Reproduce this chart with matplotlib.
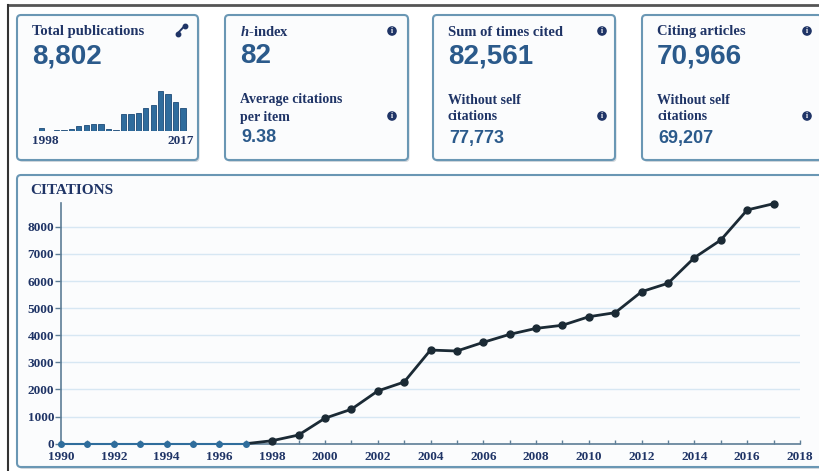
import matplotlib
matplotlib.use("Agg")
import matplotlib.pyplot as plt
from matplotlib.patches import FancyBboxPatch, Circle

plt.rcParams['mathtext.fontset'] = 'custom'
plt.rcParams['mathtext.it'] = 'Liberation Serif:italic:bold'
plt.rcParams['mathtext.rm'] = 'Liberation Serif:bold'

W, H = 819, 471

# citations per year (main chart)
cit_years = list(range(1990, 2018))
citations = [0, 0, 0, 0, 0, 0, 0, 0, 110, 320, 940, 1270, 1945, 2275,
             3455, 3420, 3740, 4035, 4255, 4370, 4685, 4835, 5610, 5920,
             6865, 7515, 8625, 8855]

# publications per year (small bar chart in first card)
pub_years = list(range(1998, 2018))
pubs = [90, 0, 35, 35, 65, 180, 190, 225, 225, 65, 35, 580, 560, 615,
        760, 880, 1330, 1220, 950, 770]

card_titles = ["Total publications", r"$h$-index", "Sum of times cited", "Citing articles"]
card_values = ["8,802", "82", "82,561", "70,966"]
card_sub = [None, ("Average citations", "per item"), ("Without self", "citations"), ("Without self", "citations")]
card_subvals = [None, "9.38", "77,773", "69,207"]

navy = '#1f3466'
blue = '#2b5a8b'
serif = 'Liberation Serif'
sans = 'Liberation Sans'

fig = plt.figure(figsize=(W / 100, H / 100), dpi=100)
bg = fig.add_axes([0, 0, 1, 1])
bg.set_xlim(0, W)
bg.set_ylim(H, 0)
bg.axis('off')

# outer frame
bg.plot([8, W], [5, 5], color='#555555', lw=2)
bg.plot([8, 8], [5, H], color='#333333', lw=1.5)


def card(x0, y0, w, h):
    sh = FancyBboxPatch((x0 + 1.5, y0 + 2), w, h, boxstyle="round,pad=0,rounding_size=4",
                        fc='#b8c0c8', ec='none', alpha=0.6, zorder=1)
    bg.add_patch(sh)
    p = FancyBboxPatch((x0, y0), w, h, boxstyle="round,pad=0,rounding_size=4",
                       fc='#fbfcfd', ec='#6a97b4', lw=1.5, zorder=2)
    bg.add_patch(p)


def info(x, y):
    bg.add_patch(Circle((x, y), 4.8, fc=navy, ec='none', zorder=4))
    bg.text(x, y + 0.3, 'i', color='white', fontsize=5.5, fontweight='bold',
            ha='center', va='center', family=serif, zorder=5)


card_x = [17, 225, 433, 642]
card_w = [181, 183, 182, 180]
icon_x = [None, 392, 602, 807]

for i in range(4):
    x0 = card_x[i]
    card(x0, 15, card_w[i], 145)
    tx = x0 + 15
    bg.text(tx, 32, card_titles[i], family=serif, fontweight='bold', fontsize=10.5,
            color=navy, va='center', ha='left', zorder=5)
    bg.text(tx, 56, card_values[i], family=sans, fontweight='bold', fontsize=20,
            color=blue, va='center', ha='left', zorder=5)
    if card_sub[i] is not None:
        bg.text(tx, 100, card_sub[i][0], family=serif, fontweight='bold', fontsize=10,
                color=navy, va='center', ha='left', zorder=5)
        bg.text(tx, 117, card_sub[i][1], family=serif, fontweight='bold', fontsize=10,
                color=navy, va='center', ha='left', zorder=5)
        bg.text(tx + 1, 138, card_subvals[i], family=sans, fontweight='bold', fontsize=13,
                color=blue, va='center', ha='left', zorder=5)
        info(icon_x[i], 31)
        info(icon_x[i], 116)

# expand icon on first card
bg.plot([177.5, 185], [33.5, 25.5], color=navy, lw=1.4, solid_capstyle='round', zorder=5)
bg.plot([177.5, 185], [33.5, 25.5], ls='none', marker='o', ms=3.2, color=navy, zorder=5)

# year labels under the small bar chart
bg.text(32, 141, '1998', family=serif, fontweight='bold', fontsize=9.5, color=navy,
        va='center', ha='left', zorder=5)
bg.text(194, 141, '2017', family=serif, fontweight='bold', fontsize=9.5, color=navy,
        va='center', ha='right', zorder=5)

# main citations panel
card(17, 175, 820, 292)
bg.text(30, 191, 'CITATIONS', family=serif, fontweight='bold', fontsize=11,
        color=navy, va='center', ha='left', zorder=5)

# small bar chart
step = (183 - 41.5) / 19
mx0 = 41.5 - step / 2
mw = step * 20
mb = 131
mh = 40 * 1400 / 1330
mini = fig.add_axes([mx0 / W, (H - mb) / H, mw / W, mh / H])
mini.bar(pub_years, pubs, width=0.72, color='#2f6c9d', edgecolor='#1d4a78', lw=0.6)
mini.set_xlim(1997.5, 2017.5)
mini.set_ylim(0, 1400)
mini.axis('off')
mini.patch.set_alpha(0)

# main line chart
x_left, x_right = 61, 800
y_zero, y_top = 443.7, 203.3
ax = fig.add_axes([x_left / W, (H - y_zero) / H, (x_right - x_left) / W, (y_zero - y_top) / H])
ax.patch.set_alpha(0)
ax.set_xlim(1990, 2018)
ax.set_ylim(0, 8870)

for s in ['top', 'right']:
    ax.spines[s].set_visible(False)
for s in ['left', 'bottom']:
    ax.spines[s].set_color('#5d7d96')
    ax.spines[s].set_linewidth(1.2)

ax.set_yticks(range(0, 9000, 1000))
ax.set_xticks(range(1990, 2019, 2))
ax.set_xticks(range(1990, 2019, 1), minor=True)
ax.tick_params(axis='y', direction='out', length=4, width=1, color='#5d7d96', pad=1)
ax.tick_params(axis='x', which='both', direction='in', length=3, width=1, color='#5d7d96', pad=5)
for lab in ax.get_xticklabels() + ax.get_yticklabels():
    lab.set_family(serif)
    lab.set_fontweight('bold')
    lab.set_fontsize(9.5)
    lab.set_color(navy)

ax.grid(axis='y', color='#d7e7f3', lw=1)
ax.set_axisbelow(True)

# dark line from 1997 on, blue markers for the zero years
ax.plot(cit_years[7:], citations[7:], color='#1b2a35', lw=2, clip_on=False, zorder=3)
ax.plot(cit_years[:8], citations[:8], color='#2f6d9c', lw=1.5, marker='o', ms=4,
        clip_on=False, zorder=4)
ax.plot(cit_years[8:], citations[8:], ls='none', color='#1b2a35', marker='o', ms=5,
        clip_on=False, zorder=5)

fig.savefig('out.png', dpi=100)
